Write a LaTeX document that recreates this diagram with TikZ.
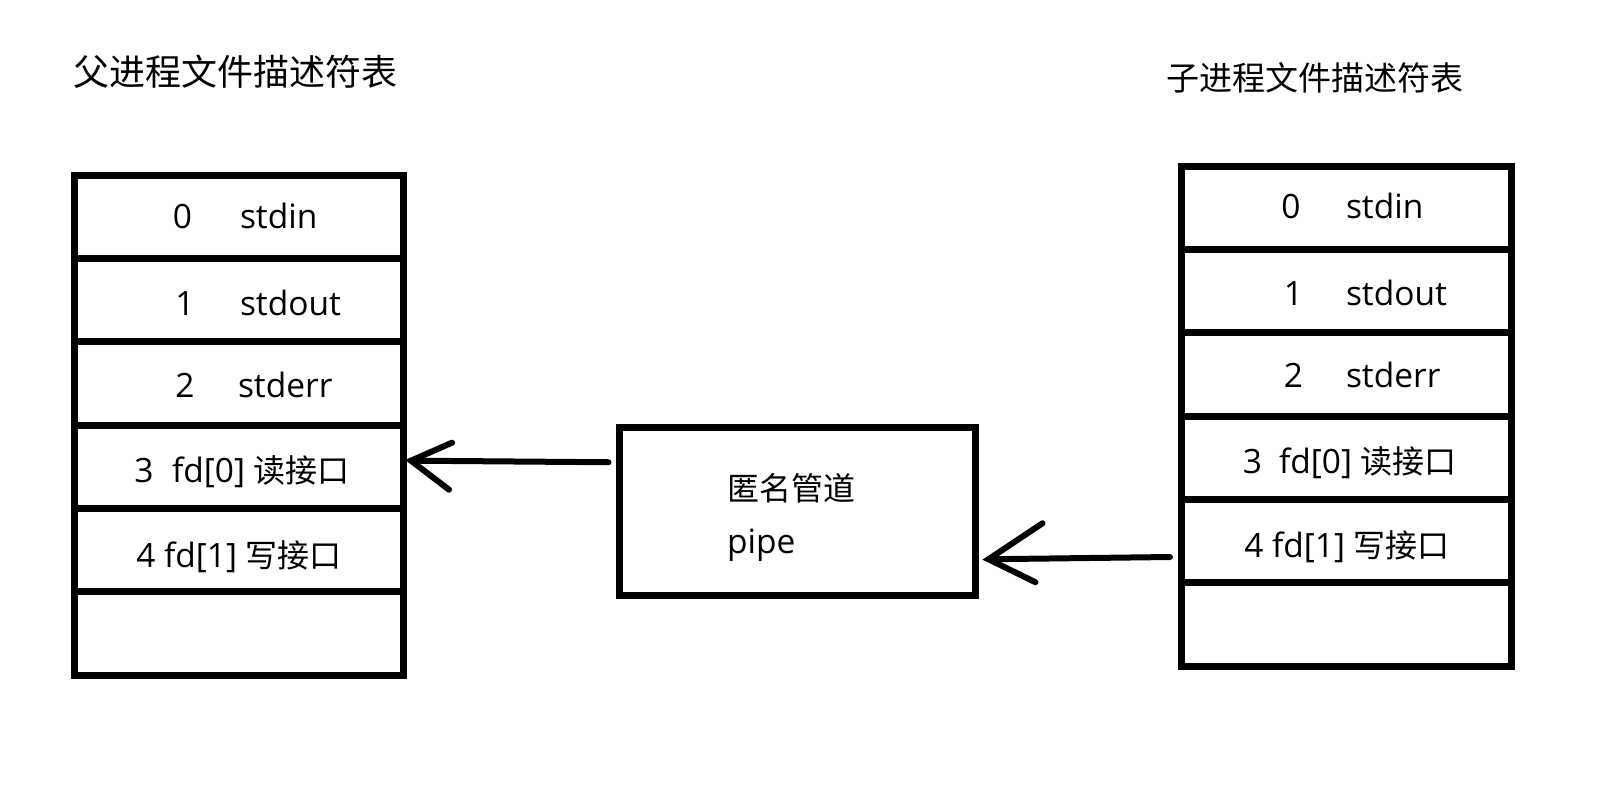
\documentclass[tikz,border=0pt]{standalone}
\usepackage{fontspec}
\setmainfont{Open Sans}
\newfontfamily\cjk{Noto Sans CJK SC}
\newcommand\cjtext[1]{{\cjk\fontsize{32}{38}\selectfont #1}}
\usetikzlibrary{arrows.meta,calc}
\begin{document}
\begin{tikzpicture}[x=1pt,y=-1pt,
  fdrow/.style={draw, line width=7pt, minimum height=83.33pt, inner sep=0pt, outer sep=0pt},
  lrow/.style={fdrow, minimum width=328.5pt},
  rrow/.style={fdrow, minimum width=329.5pt},
  txt/.style={inner sep=0pt, outer sep=0pt, font=\fontsize{33.5}{38}\selectfont},
  num/.style={txt, anchor=base},
  lbl/.style={txt, anchor=base west},
  title/.style={inner sep=0pt, outer sep=0pt, font=\cjk},
  pipebox/.style={draw, line width=7pt, minimum width=356pt, minimum height=167.5pt, inner sep=0pt},
  arrline/.style={line width=6pt, line cap=round},
]
\useasboundingbox (0,0) rectangle (1600,784);

% titles
\node[title, font=\cjk\fontsize{36}{40}\selectfont] (ltitle) at (235,72) {父进程文件描述符表};
\node[title, font=\cjk\fontsize{33}{38}\selectfont] (rtitle) at (1314.5,78) {子进程文件描述符表};

% left table
\foreach \i in {0,...,5} {
  \node[lrow] (L\i) at (238.75, {175+41.667*(2*\i+1)}) {};
}
% right table
\foreach \i in {0,...,5} {
  \node[rrow] (R\i) at (1346.25, {166+41.667*(2*\i+1)}) {};
}

% left texts
\node[num] (l0n) at (182.5,228) {0};
\node[lbl] (l0t) at (240,228) {stdin};
\node[num] (l1n) at (185,315) {1};
\node[lbl] (l1t) at (240,315) {stdout};
\node[num] (l2n) at (185,397) {2};
\node[lbl] (l2t) at (238,397) {stderr};
\node[num] (l3n) at (144,482) {3};
\node[lbl] (l3t) at (172,482) {fd[0] \cjtext{读接口}};
\node[num] (l4n) at (146,567) {4};
\node[lbl] (l4t) at (164,567) {fd[1] \cjtext{写接口}};

% right texts
\node[num] (r0n) at (1291,218) {0};
\node[lbl] (r0t) at (1346,218) {stdin};
\node[num] (r1n) at (1293.5,305) {1};
\node[lbl] (r1t) at (1346,305) {stdout};
\node[num] (r2n) at (1293.5,387) {2};
\node[lbl] (r2t) at (1346,387) {stderr};
\node[num] (r3n) at (1252.5,473) {3};
\node[lbl] (r3t) at (1279,473) {fd[0] \cjtext{读接口}};
\node[num] (r4n) at (1254,557) {4};
\node[lbl] (r4t) at (1272,557) {fd[1] \cjtext{写接口}};

% pipe
\node[pipebox] (pipe) at (797,511.25) {};
\node[lbl, font=\cjk\fontsize{32}{38}\selectfont] (pipecn) at (727,500) {匿名管道};
\node[lbl] (pipeen) at (727,553) {pipe};

% arrows: shaft plus hand-drawn open head
\coordinate (t1) at ($(L3.east)+(8,-6)$);
\coordinate (t2) at ($(pipe.east)+(10,48)$);
\draw[arrline] ($(pipe.west)+(-7,-49)$) -- (t1);
\draw[arrline] (t1) ++(41,-18) -- (t1) -- ++(38,29);
\draw[arrline] ($(R4.west)+(-11.5,16)$) -- (t2);
\draw[arrline] (t2) ++(54,-36) -- (t2) -- ++(47,23);
\end{tikzpicture}
\end{document}
